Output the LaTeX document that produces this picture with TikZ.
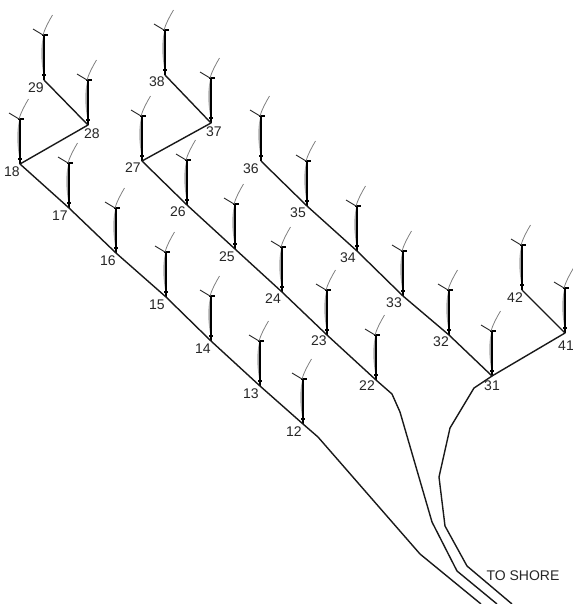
\documentclass[tikz,border=0pt]{standalone}
\usepackage{fontspec}
\setmainfont{Liberation Sans}
\tikzset{
  cable/.style={draw=black!90,line width=1.05pt,line join=round},
  lab/.style={font=\fontsize{10.5}{12}\selectfont,text=black!85,inner sep=0pt},
  tower/.style={draw=black,line width=1.7pt},
  bladedark/.style={draw=black!85,line width=.7pt},
  bladelight/.style={draw=black!50,line width=.6pt},
  hub/.style={draw=black,line width=1.4pt},
  shade/.style={fill=black!35,draw=none},
}
\newcommand{\turbine}[3]{% name, x y of base, label pos
  \coordinate (#1) at (#2);
  \begin{scope}[shift={(#1)}]
    \fill[shade] (-1,-43) .. controls (-3.5,-32) and (-3,-20) .. (-1,-8) -- cycle;
    \draw[tower] (0,0) -- (0,-44);
    \draw[hub] (-2,-45) -- (4,-45);
    \draw[hub,line width=.8pt] (-2,-5) -- (2,-5);
    \draw[bladedark] (-1,-45) -- (-11,-51);
    \draw[bladelight] (-1,-45) .. controls (1,-52) and (5,-59) .. (8.5,-65);
  \end{scope}
  \node[lab] (l#1) at (#3) {#1};
}
\begin{document}
\begin{tikzpicture}[x=0.75pt,y=-0.75pt]
\useasboundingbox (0,0) rectangle (572,604);
\fill[white] (0,0) rectangle (572,604);
\turbine{29}{44,80}{36,88}
\turbine{28}{88,125}{92,134}
\turbine{18}{20,164}{12,172}
\turbine{17}{69,208}{60,216}
\turbine{16}{116,253}{108,261}
\turbine{15}{166,297}{157,305}
\turbine{14}{211,341}{203,349}
\turbine{13}{260,386}{251,394}
\turbine{12}{303,424}{294,432}
\turbine{38}{165,75}{157,82}
\turbine{37}{211,123}{214,132}
\turbine{27}{142,161}{133,168}
\turbine{26}{187,205}{178,212}
\turbine{25}{235,249}{227,257}
\turbine{24}{282,292}{273,299}
\turbine{23}{327,335}{319,341}
\turbine{22}{376,380}{367,386}
\turbine{36}{261,161}{251,169}
\turbine{35}{307,206}{298,213}
\turbine{34}{357,251}{348,258}
\turbine{33}{403,296}{394,303}
\turbine{32}{449,335}{441,342}
\turbine{31}{492,376}{492,386}
\turbine{42}{522,290}{515,298}
\turbine{41}{565,333}{566,346}
\node[lab] (shore) at (523,576) {TO SHORE};
\coordinate (endA) at (481,604);
\coordinate (endB) at (497,604);
\coordinate (endC) at (512,604);
\draw[cable] (29) -- (28) -- (18) -- (17) -- (16) -- (15) -- (14) -- (13) -- (12)
  -- (318,437) -- (420,554) -- (endA);
\draw[cable] (38) -- (37) -- (27) -- (26) -- (25) -- (24) -- (23) -- (22)
  -- (392,394) -- (400,412) -- (432,522) -- (457,571) -- (endB);
\draw[cable] (36) -- (35) -- (34) -- (33) -- (32) -- (31)
  -- (474,388) -- (450,428) -- (439,477) -- (445,526) -- (467,566) -- (endC);
\draw[cable] (42) -- (41) -- (31);
\end{tikzpicture}
\end{document}
